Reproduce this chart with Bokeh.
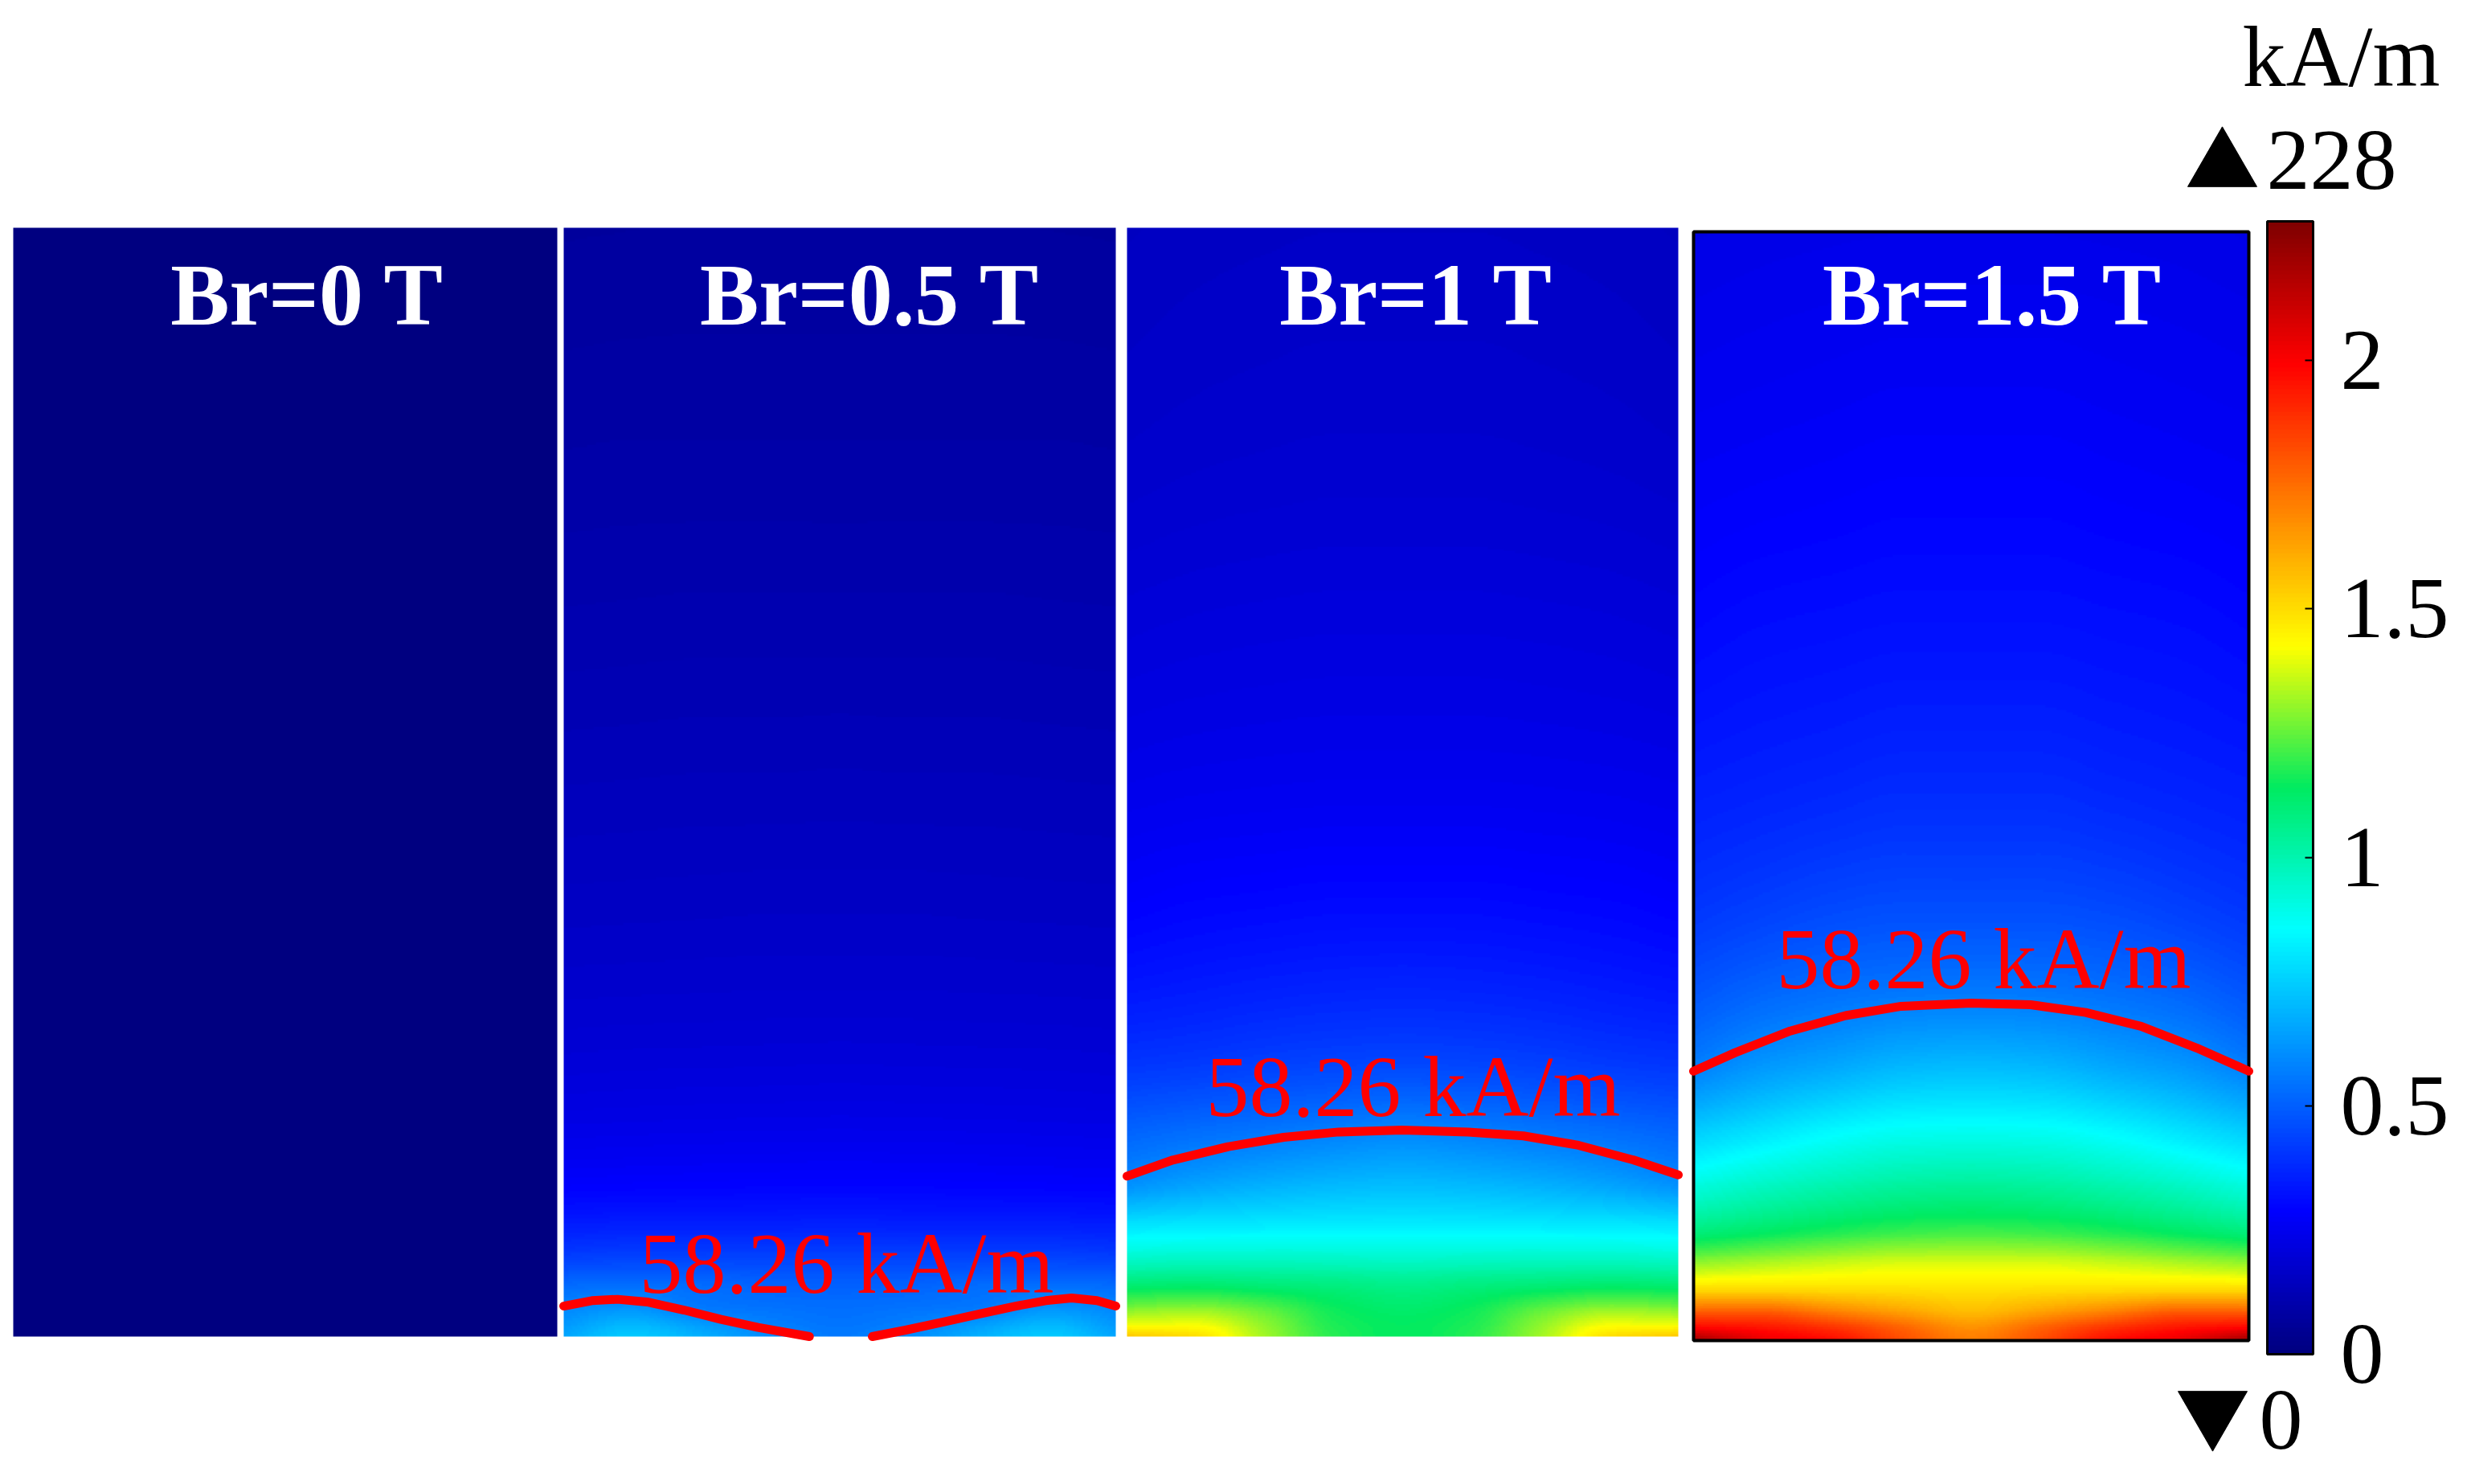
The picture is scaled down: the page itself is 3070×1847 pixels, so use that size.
import numpy as np
from bokeh.plotting import figure
from bokeh.models import Range1d, LinearColorMapper, ColorBar, FixedTicker, CustomJSTickFormatter
from bokeh.core.properties import value
from bokeh.embed import file_html
from bokeh.resources import INLINE

# ---------------- data ----------------
PANEL_TITLES = ["Br=0 T", "Br=0.5 T", "Br=1 T", "Br=1.5 T"]
CONTOUR_LABEL = "58.26 kA/m"
H_LOW, H_HIGH = 0.0, 2.28           # colour range (x100 kA/m)
CB_TICKS = [0, 0.5, 1, 1.5, 2]
UNIT = "kA/m"
MAX_LABEL = "228"
MIN_LABEL = "0"

# sample grid: height fraction from bottom, lateral fraction (left half, mirrored)
ROWS_H = [0, 0.01, 0.025, 0.045, 0.07, 0.1, 0.14, 0.19, 0.25, 0.32, 0.4, 0.5, 0.65, 0.8, 1.0]
COLS_X = [0, 0.12, 0.25, 0.38, 0.5]

FIELD_BR0 = [[0.0, 0.0, 0.0, 0.0, 0.0]] * 15

FIELD_BR05 = [
    [0.66, 0.74, 0.68, 0.60, 0.56],
    [0.63, 0.70, 0.64, 0.575, 0.55],
    [0.59, 0.62, 0.56, 0.545, 0.535],
    [0.53, 0.54, 0.53, 0.51, 0.505],
    [0.43, 0.44, 0.44, 0.44, 0.44],
    [0.35, 0.355, 0.355, 0.357, 0.36],
    [0.28, 0.283, 0.285, 0.287, 0.288],
    [0.232, 0.234, 0.236, 0.237, 0.238],
    [0.198, 0.2, 0.201, 0.202, 0.203],
    [0.173, 0.174, 0.175, 0.176, 0.176],
    [0.153, 0.154, 0.155, 0.156, 0.156],
    [0.133, 0.134, 0.135, 0.135, 0.136],
    [0.108, 0.109, 0.11, 0.11, 0.11],
    [0.089, 0.09, 0.09, 0.09, 0.09],
    [0.07, 0.071, 0.072, 0.072, 0.072],
]

FIELD_BR1 = [
    [1.55, 1.50, 1.32, 1.18, 1.14],
    [1.42, 1.42, 1.30, 1.17, 1.14],
    [1.28, 1.30, 1.24, 1.15, 1.12],
    [1.12, 1.13, 1.11, 1.09, 1.07],
    [0.95, 0.96, 0.96, 0.955, 0.95],
    [0.80, 0.81, 0.815, 0.82, 0.82],
    [0.60, 0.64, 0.67, 0.69, 0.70],
    [0.50, 0.52, 0.54, 0.56, 0.575],
    [0.40, 0.41, 0.425, 0.435, 0.44],
    [0.33, 0.34, 0.35, 0.357, 0.36],
    [0.28, 0.29, 0.295, 0.30, 0.30],
    [0.24, 0.245, 0.248, 0.25, 0.25],
    [0.20, 0.205, 0.208, 0.21, 0.21],
    [0.17, 0.175, 0.178, 0.18, 0.18],
    [0.15, 0.155, 0.158, 0.16, 0.16],
]

FIELD_BR15 = [
    [2.22, 2.05, 1.97, 1.82, 1.72],
    [2.02, 1.97, 1.90, 1.78, 1.68],
    [1.80, 1.80, 1.72, 1.64, 1.58],
    [1.52, 1.52, 1.51, 1.50, 1.49],
    [1.30, 1.33, 1.36, 1.38, 1.38],
    [1.08, 1.12, 1.16, 1.19, 1.20],
    [0.91, 0.96, 1.00, 1.03, 1.04],
    [0.74, 0.79, 0.84, 0.87, 0.875],
    [0.565, 0.62, 0.655, 0.69, 0.70],
    [0.47, 0.505, 0.53, 0.545, 0.55],
    [0.40, 0.42, 0.44, 0.45, 0.45],
    [0.35, 0.36, 0.37, 0.38, 0.38],
    [0.30, 0.31, 0.315, 0.32, 0.32],
    [0.265, 0.27, 0.275, 0.28, 0.28],
    [0.23, 0.235, 0.238, 0.24, 0.24],
]

# 58.26 kA/m contour lines (x fraction of panel width, height fraction from bottom)
C05_LEFT_X = [0, 0.051, 0.0975, 0.151, 0.218, 0.285, 0.352, 0.445]
C05_LEFT_H = [0.0275, 0.0324, 0.0336, 0.0312, 0.0239, 0.0155, 0.0082, 0.0]
C05_RIGHT_X = [0.559, 0.619, 0.686, 0.753, 0.819, 0.873, 0.920, 0.966, 1.0]
C05_RIGHT_H = [0.0, 0.0058, 0.013, 0.0203, 0.0275, 0.0324, 0.0348, 0.0324, 0.0275]
C1_X = [0, 0.083, 0.184, 0.284, 0.384, 0.498, 0.619, 0.719, 0.819, 0.919, 1.0]
C1_H = [0.1447, 0.1592, 0.1713, 0.1797, 0.1845, 0.1862, 0.1845, 0.181, 0.1725, 0.1592, 0.1459]
C15_X = [0, 0.075, 0.174, 0.274, 0.374, 0.500, 0.607, 0.706, 0.806, 0.906, 1.0]
C15_H = [0.243, 0.2597, 0.2792, 0.2931, 0.3015, 0.3043, 0.3029, 0.2959, 0.2834, 0.2639, 0.243]

# ---------------- layout (page pixels, y measured upward) ----------------
W, H = 3070, 1847
PANEL_BOXES = [(16, 184, 677, 1380), (701, 184, 687, 1380), (1402, 184, 686, 1380), (2107, 179, 691, 1380)]
TITLE_X = [382, 1082, 1762, 2479]
TITLE_Y = 1443
LABEL_POS = [None, (1053, 237), (1758, 457), (2468, 616)]
CB_BOX = (2821, 162, 57, 1410)   # left, bottom, width, height
TDY = 38                          # baseline correction for text glyphs

SERIF = "Liberation Serif"
FS = "108px"

# ---------------- colour map ----------------
stops = [(0.0, (0, 0, 0.5)), (0.125, (0, 0, 1)), (0.375, (0, 1, 1)), (0.5, (0, 0.92, 0.38)),
         (0.625, (1, 1, 0)), (0.875, (1, 0, 0)), (1.0, (0.5, 0, 0))]
sf = np.array([s[0] for s in stops])
sc = np.array([s[1] for s in stops])
ff = np.linspace(0, 1, 256)
palette = []
for f in ff:
    rgb = [np.interp(f, sf, sc[:, k]) for k in range(3)]
    palette.append("#%02x%02x%02x" % tuple(int(round(255 * c)) for c in rgb))
mapper = LinearColorMapper(palette=palette, low=H_LOW, high=H_HIGH)


def pchip(xk, yk, xq):
    xk = np.asarray(xk, float)
    yk = np.asarray(yk, float)
    xq = np.asarray(xq, float)
    n = len(xk)
    h = np.diff(xk)
    d = np.diff(yk, axis=0) / h[:, None]
    m = np.zeros_like(yk)
    for k in range(1, n - 1):
        w1 = 2 * h[k] + h[k - 1]
        w2 = h[k] + 2 * h[k - 1]
        with np.errstate(divide="ignore", invalid="ignore"):
            mk = (w1 + w2) / (w1 / d[k - 1] + w2 / d[k])
        m[k] = np.where(d[k - 1] * d[k] > 0, mk, 0.0)
    m[0] = d[0]
    m[-1] = d[-1]
    idx = np.clip(np.searchsorted(xk, xq, side="right") - 1, 0, n - 2)
    hh = h[idx][:, None]
    t = ((xq - xk[idx]) / h[idx])[:, None]
    h00 = 2 * t**3 - 3 * t**2 + 1
    h10 = t**3 - 2 * t**2 + t
    h01 = -2 * t**3 + 3 * t**2
    h11 = t**3 - t**2
    return h00 * yk[idx] + h10 * hh * m[idx] + h01 * yk[idx + 1] + h11 * hh * m[idx + 1]


def field_image(grid, nx=240, nh=480):
    g = np.asarray(grid, float)
    full = np.concatenate([g, g[:, -2::-1]], axis=1)
    xs = list(COLS_X) + [1 - c for c in COLS_X[-2::-1]]
    xq = (np.arange(nx) + 0.5) / nx
    hq = (np.arange(nh) + 0.5) / nh
    rows = pchip(xs, full.T, xq).T          # (rows, nx)
    img = pchip(ROWS_H, rows, hq)           # (nh, nx)
    return img.astype(np.float32)


p = figure(width=W - 16, height=H - 16, x_range=Range1d(0, W - 16), y_range=Range1d(16, H),
           output_backend="svg", toolbar_location=None, min_border=0,
           x_axis_type=None, y_axis_type=None, outline_line_color=None)
p.grid.visible = False
p.background_fill_color = "white"
p.border_fill_color = "white"

fields = [FIELD_BR0, FIELD_BR05, FIELD_BR1, FIELD_BR15]
for (x0, y0, w, h), grid in zip(PANEL_BOXES, fields):
    p.image(image=[field_image(grid)], x=x0, y=y0, dw=w, dh=h, color_mapper=mapper)

# black frame around the selected (last) panel
bx, by, bw, bh = PANEL_BOXES[3]
p.quad(left=[bx], right=[bx + bw], bottom=[by], top=[by + bh], fill_color=None,
       line_color="black", line_width=4)

# contour lines
contours = [(1, C05_LEFT_X, C05_LEFT_H), (1, C05_RIGHT_X, C05_RIGHT_H), (2, C1_X, C1_H), (3, C15_X, C15_H)]
for i, cx, chh in contours:
    x0, y0, w, h = PANEL_BOXES[i]
    p.line(x=[x0 + w * v for v in cx], y=[y0 + h * v for v in chh], line_color="#ff0000",
           line_width=11, line_cap="round", line_join="round")

# panel titles
p.text(x=TITLE_X, y=[TITLE_Y + TDY] * 4, text=PANEL_TITLES, text_font=value(SERIF), text_font_size="110px",
       text_font_style="bold", text_color="white", text_align="center", text_baseline="alphabetic")

# contour labels
for pos in LABEL_POS:
    if pos is None:
        continue
    p.text(x=[pos[0]], y=[pos[1] + TDY], text=[CONTOUR_LABEL], text_font=value(SERIF), text_font_size=FS,
           text_color="#ff0000", text_align="center", text_baseline="alphabetic")

# colour bar
cbx, cby, cbw, cbh = CB_BOX
cb = ColorBar(color_mapper=mapper, ticker=FixedTicker(ticks=CB_TICKS),
              formatter=CustomJSTickFormatter(code="return tick.toString()"),
              width=cbw, height=cbh, location=(cbx, cby - 16), padding=0, margin=0,
              major_label_text_font=SERIF, major_label_text_font_size=FS,
              major_label_text_color="black", label_standoff=34,
              major_tick_in=10, major_tick_out=0, major_tick_line_color="black",
              major_tick_line_width=2, minor_tick_line_color=None,
              bar_line_color="black", bar_line_width=3,
              border_line_color=None, background_fill_alpha=0, orientation="vertical")
p.add_layout(cb)

# ticks on the left inner edge of the colour bar
tick_y = [cby + (t - H_LOW) / (H_HIGH - H_LOW) * cbh for t in CB_TICKS[1:]]
p.segment(x0=[cbx] * len(tick_y), x1=[cbx + 10] * len(tick_y), y0=tick_y, y1=tick_y,
          line_color="black", line_width=2)

# unit, max / min markers
p.text(x=[2790], y=[H - 108 + TDY], text=[UNIT], text_font=value(SERIF), text_font_size=FS,
       text_color="black", text_align="left", text_baseline="alphabetic")
p.scatter(x=[2765], y=[H - 207], marker="triangle", size=86, color="black")
p.text(x=[2820], y=[H - 237 + TDY], text=[MAX_LABEL], text_font=value(SERIF), text_font_size=FS,
       text_color="black", text_align="left", text_baseline="alphabetic")
p.scatter(x=[2753], y=[H - 1756], marker="inverted_triangle", size=86, color="black")
p.text(x=[2811], y=[H - 1805 + TDY], text=[MIN_LABEL], text_font=value(SERIF), text_font_size=FS,
       text_color="black", text_align="left", text_baseline="alphabetic")

open("out.html", "w").write(file_html(p, INLINE))
